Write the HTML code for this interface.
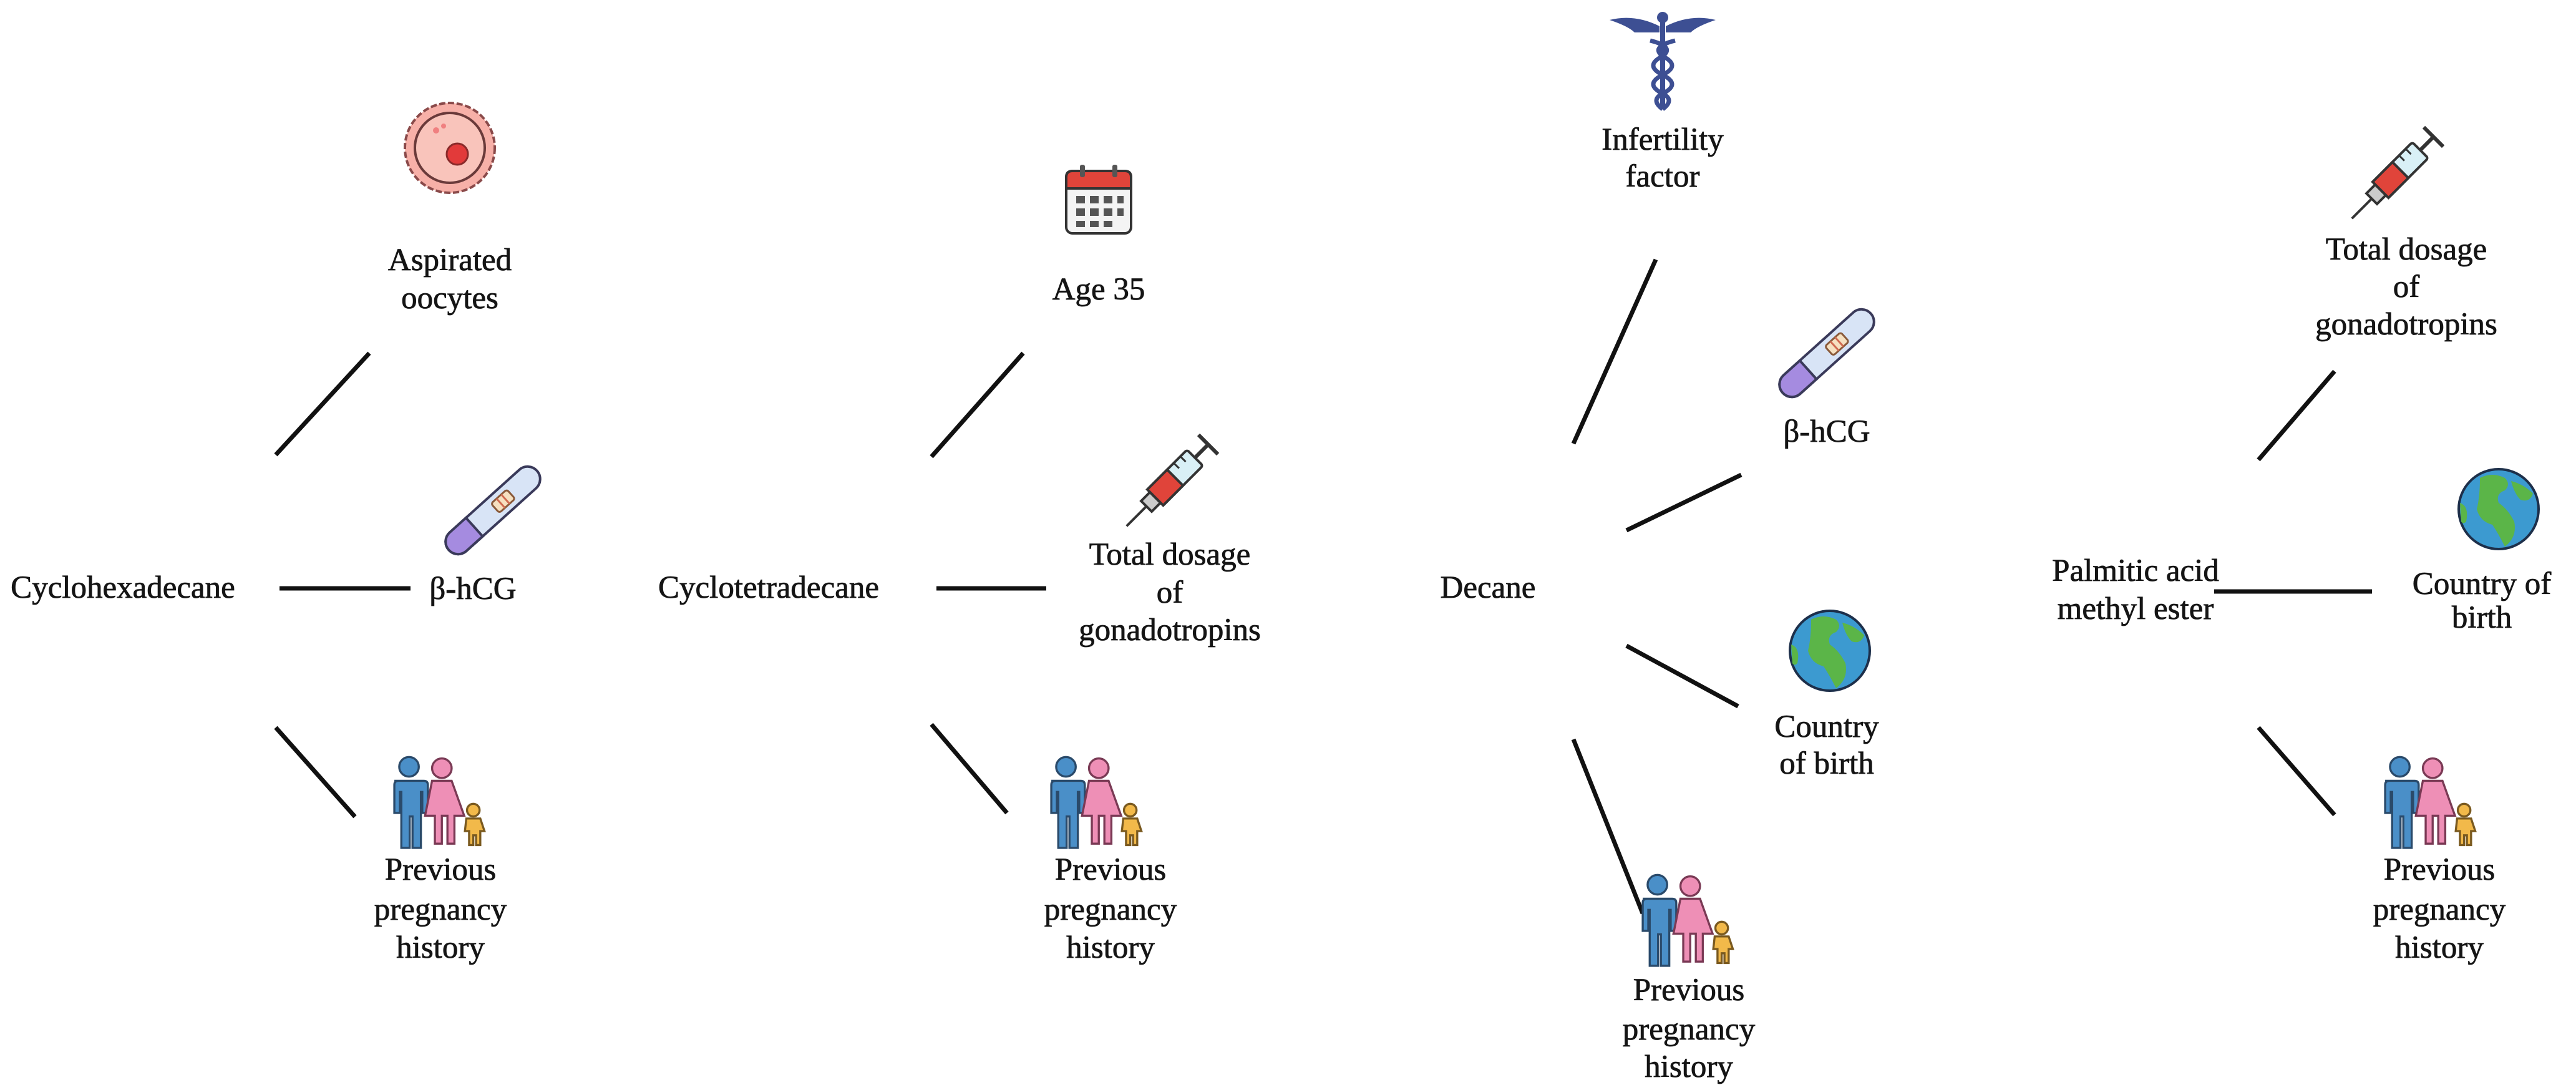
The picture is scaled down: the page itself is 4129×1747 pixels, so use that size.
<!DOCTYPE html>
<html><head><meta charset="utf-8"><style>
html,body{margin:0;padding:0;background:#fff}
svg{display:block}
text{font-family:"Liberation Serif","DejaVu Serif",serif;font-size:51px;fill:#151515;text-anchor:middle;stroke:#151515;stroke-width:0.8}
</style></head><body>
<svg width="4129" height="1747" viewBox="0 0 4129 1747" xmlns="http://www.w3.org/2000/svg">
<defs>
<g id="family">
 <g transform="scale(1.12)">
 <g fill="#4a8fc8" stroke="#2a4a6a" stroke-width="3">
  <circle cx="-45" cy="-50" r="14"/>
  <path d="M-66 -30 h42 q6 0 6 6 v40 h-8 v-30 h-2 v80 h-12 v-45 h-4 v45 h-12 v-80 h-2 v30 h-8 v-40 q0-6 6-6z"/>
 </g>
 <g fill="#ee8fb6" stroke="#7a3a55" stroke-width="3">
  <circle cx="2" cy="-48" r="14"/>
  <path d="M-12 -30 h28 l18 50 h-14 v40 h-10 v-40 h-8 v40 h-10 v-40 h-14z"/>
 </g>
 <g fill="#f2b94a" stroke="#7a5a20" stroke-width="3">
  <circle cx="47" cy="12" r="9"/>
  <path d="M37 24 h20 l6 18 h-6 v20 h-6 v-14 h-4 v14 h-6 v-20 h-6z"/>
 </g>
 </g>
</g>
<g id="test">
 <g transform="rotate(-42)">
  <rect x="-95" y="-20" width="190" height="40" rx="20" fill="#d8e4f6" stroke="#3a3a5a" stroke-width="4"/>
  <path d="M-95 0 a20 20 0 0 1 20 -20 h35 v40 h-35 a20 20 0 0 1 -20 -20z" fill="#a58be0" stroke="#3a3a5a" stroke-width="4"/>
  <rect x="5" y="-10" width="34" height="20" rx="4" fill="#f6e0c0" stroke="#8a5a3a" stroke-width="3"/>
  <line x1="17" y1="-10" x2="17" y2="10" stroke="#d06a50" stroke-width="3"/>
  <line x1="27" y1="-10" x2="27" y2="10" stroke="#d06a50" stroke-width="3"/>
 </g>
</g>
<g id="globe">
 <circle r="64" fill="#3c9ad0" stroke="#1d2f4a" stroke-width="4"/>
 <path d="M-30 -50 q20 -10 40 0 q10 10 0 20 q-15 5 -10 20 q15 10 25 30 q5 25 -15 40 q-10 -20 -20 -35 q-20 -5 -25 -25 q5 -20 5 -50z" fill="#5bb548"/>
 <path d="M20 -45 q20 5 35 20 q-5 15 -20 10 q-10 -10 -15 -30z" fill="#5bb548"/>
 <path d="M-62 -10 q15 5 10 30 q-5 5 -8 0z" fill="#5bb548"/>
</g>
<g id="syringe">
 <g transform="rotate(-45)">
  <line x1="-105" y1="0" x2="-60" y2="0" stroke="#333" stroke-width="4"/>
  <rect x="-60" y="-12" width="20" height="24" fill="#ccc" stroke="#333" stroke-width="4"/>
  <rect x="-40" y="-18" width="90" height="36" rx="4" fill="#d9f0f6" stroke="#333" stroke-width="4"/>
  <rect x="-40" y="-18" width="45" height="36" fill="#e0443a" stroke="#333" stroke-width="4"/>
  <line x1="50" y1="0" x2="80" y2="0" stroke="#333" stroke-width="6"/>
  <line x1="80" y1="-22" x2="80" y2="22" stroke="#333" stroke-width="6"/>
  <line x1="20" y1="-18" x2="20" y2="-6" stroke="#333" stroke-width="3"/>
  <line x1="35" y1="-18" x2="35" y2="-6" stroke="#333" stroke-width="3"/>
 </g>
</g>
<g id="oocyte">
 <circle r="72" fill="#f7b0a8" stroke="#8a4a4a" stroke-width="4" stroke-dasharray="10 4"/>
 <circle r="56" fill="#f9c4bb" stroke="#6a3a3a" stroke-width="4"/>
 <circle cx="12" cy="10" r="17" fill="#e23a3a" stroke="#8a2a2a" stroke-width="3"/>
 <circle cx="-22" cy="-28" r="5" fill="#f08080"/>
 <circle cx="-10" cy="-35" r="4" fill="#f08080"/>
</g>
<g id="calendar">
 <rect x="-52" y="-48" width="104" height="100" rx="10" fill="#f4f4f4" stroke="#333" stroke-width="4"/>
 <path d="M-52 -20 v-18 q0-10 10-10 h84 q10 0 10 10 v18z" fill="#e0443a" stroke="#333" stroke-width="4"/>
 <rect x="-30" y="-58" width="8" height="20" rx="3" fill="#555"/>
 <rect x="22" y="-58" width="8" height="20" rx="3" fill="#555"/>
 <g fill="#555">
  <rect x="-36" y="-8" width="14" height="12"/><rect x="-14" y="-8" width="14" height="12"/><rect x="8" y="-8" width="14" height="12"/><rect x="30" y="-8" width="10" height="12"/>
  <rect x="-36" y="12" width="14" height="12"/><rect x="-14" y="12" width="14" height="12"/><rect x="8" y="12" width="14" height="12"/><rect x="30" y="12" width="10" height="12"/>
  <rect x="-36" y="32" width="14" height="10"/><rect x="-14" y="32" width="14" height="10"/><rect x="8" y="32" width="14" height="10"/>
 </g>
</g>
<g id="caduceus">
 <g fill="#3d4f93">
  <rect x="-4" y="-70" width="8" height="145"/>
  <circle cx="0" cy="-72" r="9"/>
  <path d="M-5 -58 q-40 -20 -80 -10 q30 10 40 20 q25 0 40 0z"/>
  <path d="M5 -58 q40 -20 80 -10 q-30 10 -40 20 q-25 0 -40 0z"/>
 </g>
 <path d="M-20 -35 q40 10 20 25 q-30 15 0 30 q30 15 0 30 q-20 10 0 25" fill="none" stroke="#3d4f93" stroke-width="7"/>
 <path d="M20 -35 q-40 10 -20 25 q30 15 0 30 q-30 15 0 30 q20 10 0 25" fill="none" stroke="#3d4f93" stroke-width="7"/>
</g>
</defs>

<g stroke="#111" stroke-width="7" stroke-linecap="butt">
 <line x1="442" y1="729" x2="592" y2="566"/>
 <line x1="448" y1="943" x2="658" y2="943"/>
 <line x1="442" y1="1166" x2="569" y2="1309"/>
 <line x1="1493" y1="732" x2="1640" y2="566"/>
 <line x1="1501" y1="943" x2="1677" y2="943"/>
 <line x1="1493" y1="1161" x2="1614" y2="1303"/>
 <line x1="2522" y1="711" x2="2654" y2="416"/>
 <line x1="2607" y1="850" x2="2791" y2="761"/>
 <line x1="2607" y1="1035" x2="2786" y2="1132"/>
 <line x1="2522" y1="1185" x2="2633" y2="1464"/>
 <line x1="3620" y1="737" x2="3742" y2="595"/>
 <line x1="3549" y1="948" x2="3802" y2="948"/>
 <line x1="3620" y1="1166" x2="3742" y2="1306"/>
</g>

<!-- Panel 1 -->
<text x="197" y="958">Cyclohexadecane</text>
<use href="#oocyte" x="721" y="237"/>
<text x="721" y="433">Aspirated</text>
<text x="721" y="494">oocytes</text>
<use href="#test" x="790" y="818"/>
<text x="758" y="960">β-hCG</text>
<use href="#family" x="706" y="1285"/>
<text x="706" y="1410">Previous</text>
<text x="706" y="1474">pregnancy</text>
<text x="706" y="1535">history</text>

<!-- Panel 2 -->
<text x="1232" y="958">Cyclotetradecane</text>
<use href="#calendar" x="1761" y="322"/>
<text x="1761" y="480">Age 35</text>
<use href="#syringe" x="1880" y="769"/>
<text x="1875" y="905">Total dosage</text>
<text x="1875" y="966">of</text>
<text x="1875" y="1026">gonadotropins</text>
<use href="#family" x="1759" y="1285"/>
<text x="1780" y="1410">Previous</text>
<text x="1780" y="1474">pregnancy</text>
<text x="1780" y="1535">history</text>

<!-- Panel 3 -->
<text x="2385" y="958">Decane</text>
<use href="#caduceus" x="2665" y="100"/>
<text x="2665" y="240">Infertility</text>
<text x="2665" y="299">factor</text>
<use href="#test" x="2928" y="566"/>
<text x="2928" y="708">β-hCG</text>
<use href="#globe" x="2933" y="1043"/>
<text x="2928" y="1181">Country</text>
<text x="2928" y="1240">of birth</text>
<use href="#family" x="2707" y="1474"/>
<text x="2707" y="1603">Previous</text>
<text x="2707" y="1666">pregnancy</text>
<text x="2707" y="1726">history</text>

<!-- Panel 4 -->
<text x="3423" y="931">Palmitic acid</text>
<text x="3423" y="992">methyl ester</text>
<use href="#syringe" x="3844" y="276"/>
<text x="3857" y="416">Total dosage</text>
<text x="3857" y="476">of</text>
<text x="3857" y="536">gonadotropins</text>
<use href="#globe" x="4005" y="816"/>
<text x="3978" y="952">Country of</text>
<text x="3978" y="1006">birth</text>
<use href="#family" x="3897" y="1285"/>
<text x="3910" y="1410">Previous</text>
<text x="3910" y="1474">pregnancy</text>
<text x="3910" y="1535">history</text>
</svg>
</body></html>
